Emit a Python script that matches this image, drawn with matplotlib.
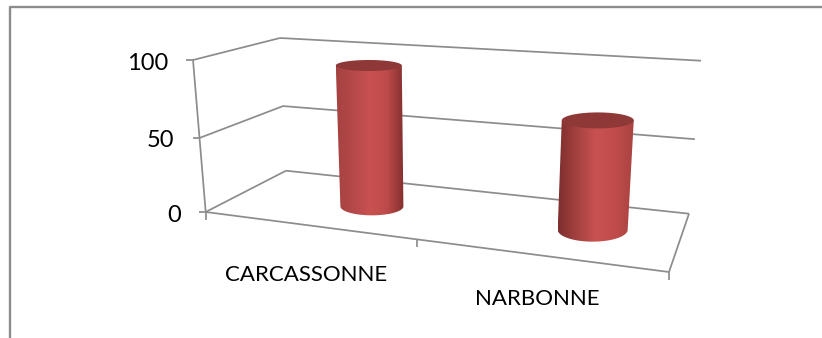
import numpy as np
import matplotlib
matplotlib.use('Agg')
import matplotlib.pyplot as plt
from matplotlib.patches import PathPatch
from matplotlib.path import Path
from matplotlib.colors import LinearSegmentedColormap

# Valeurs du graphique
villes = ['CARCASSONNE', 'NARBONNE']
valeurs = [95, 70]
graduations = [0, 50, 100]

# Position et taille des cylindres dans la boite 3D
pos_u = [0.291, 0.797]
pos_w = [0.5, 0.55]
demi_largeur_bas = [31.5, 35]
demi_largeur_haut = [33, 36]
demi_hauteur_bas = [9, 12]
demi_hauteur_haut = [5.5, 8]
teintes = [
    ['#a54240', '#b5484a', '#c95251', '#bd4b49', '#83302f'],
    ['#7d2f2e', '#a54240', '#c95251', '#bf4c4a', '#a84341'],
]

# Coins de la boite : (avant/arriere, gauche/droite, bas/haut)
coins = {
    (0, 0, 0): (205.7, 212), (0, 1, 0): (669, 272),
    (1, 0, 0): (286, 170.7), (1, 1, 0): (689, 213.7),
    (0, 0, 1): (193, 60), (0, 1, 1): (680, 97),
    (1, 0, 1): (280, 38), (1, 1, 1): (701, 60.7),
}
GRIS = '#8c8c8c'
PERSPECTIVE = 1.053


def projette(u, valeur, w):
    # u : 0 a gauche, 1 a droite ; w : 0 devant, 1 au fond
    v = valeur / 100
    # l'axe vertical se resserre un peu vers le haut
    v = v / (v + PERSPECTIVE * (1 - v))
    x = y = 0
    for (kw, ku, kv), (cx, cy) in coins.items():
        poids = (w if kw else 1 - w) * (u if ku else 1 - u) * (v if kv else 1 - v)
        x += poids * cx
        y += poids * cy
    return x, y


def ligne(p1, p2):
    ax.plot([p1[0], p2[0]], [p1[1], p2[1]], color=GRIS, lw=1.25, zorder=1,
            solid_capstyle='butt')


fig = plt.figure(figsize=(8.22, 3.38), dpi=100)
ax = fig.add_axes([0, 0, 1, 1])
ax.set_xlim(0, 822)
ax.set_ylim(338, 0)
ax.axis('off')

# Cadre exterieur : seulement le haut et la gauche
ax.plot([9.5, 9.5, 822], [338, 6.5, 6.5], color=GRIS, lw=1.7, zorder=0, clip_on=False)

# Murs, plancher et graduations
for g in graduations:
    a = projette(0, g, 0)
    b = projette(0, g, 1)
    c = projette(1, g, 1)
    ligne(a, b)
    ligne(b, c)
    ligne((a[0] - 7, a[1]), a)
    ax.text(a[0] - 25, a[1] + 3, str(g), ha='right', va='center', fontsize=17,
            family='Lato', color='black')
ligne(projette(0, 0, 0), projette(0, 100, 0))
ligne(projette(0, 0, 0), projette(1, 0, 0))
ligne(projette(1, 0, 0), projette(1, 0, 1))
for u in (0, 0.456, 1):
    p = projette(u, 0, 0)
    ligne(p, (p[0], p[1] + 8))

# Cylindres
t = np.linspace(0, np.pi, 60)
for i, val in enumerate(valeurs):
    bx, by = projette(pos_u[i], 0, pos_w[i])
    hx, hy = projette(pos_u[i], val, pos_w[i])
    lb, lh = demi_largeur_bas[i], demi_largeur_haut[i]
    eb, eh = demi_hauteur_bas[i], demi_hauteur_haut[i]
    # contour : bord haut gauche -> droite, puis arc du bas droite -> gauche
    xs = np.r_[hx - lh, hx + lh, bx + lb * np.cos(t)]
    ys = np.r_[hy, hy, by + eb * np.sin(t)]
    corps = PathPatch(Path(np.c_[xs, ys]), fc='none', ec='none', zorder=2)
    ax.add_patch(corps)
    cmap = LinearSegmentedColormap.from_list('c%d' % i, teintes[i])
    grad = np.linspace(0, 1, 256)[None, :]
    x0, x1 = min(hx - lh, bx - lb), max(hx + lh, bx + lb)
    im = ax.imshow(grad, cmap=cmap, extent=[x0, x1, by + eb + 1, hy - 1],
                   aspect='auto', zorder=2, interpolation='bilinear')
    im.set_clip_path(corps)
    a = np.linspace(0, 2 * np.pi, 90)
    ax.fill(hx + lh * np.cos(a), hy + eh * np.sin(a), color='#8e3837', lw=0, zorder=3)

ax.set_xlim(0, 822)
ax.set_ylim(338, 0)

# Etiquettes des categories
ax.text(306.5, 275, villes[0], ha='center', va='center', fontsize=16, family='Lato', color='black')
ax.text(537, 299, villes[1], ha='center', va='center', fontsize=16, family='Lato', color='black')

fig.savefig('out.png', dpi=100, facecolor='white')
